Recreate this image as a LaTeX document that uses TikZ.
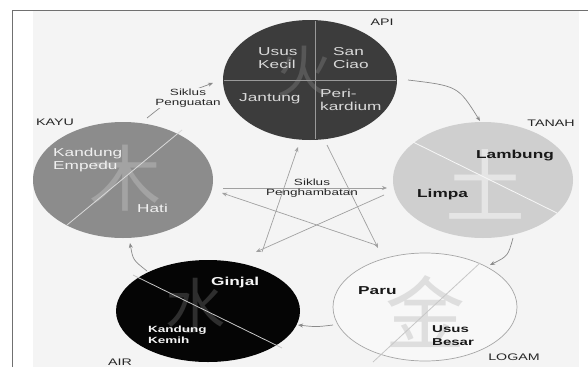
\documentclass[tikz,border=0pt]{standalone}
\usepackage{fontspec}
\setmainfont{Liberation Sans}
\newfontfamily\wf[FakeStretch=1.5]{Liberation Sans}
\newfontfamily\cjkfont{Noto Sans CJK SC}
\usetikzlibrary{shapes.geometric,arrows.meta}
\definecolor{bgpanel}{HTML}{F4F4F4}
\definecolor{framecol}{HTML}{707070}
\definecolor{apifill}{HTML}{3C3C3C}
\definecolor{kayufill}{HTML}{8C8C8C}
\definecolor{tanahfill}{HTML}{CFCFCF}
\definecolor{airfill}{HTML}{050505}
\definecolor{logamfill}{HTML}{F8F8F8}
\definecolor{cyclecol}{HTML}{8A8A8A}
\definecolor{starcol}{HTML}{A0A0A0}
\tikzset{
  element/.style={ellipse, draw=none, inner sep=0pt},
  organ/.style={align=left, anchor=west, font=\wf\fontsize{11.5}{13}\selectfont, inner sep=0pt},
  organb/.style={organ, font=\wf\bfseries\fontsize{11.5}{13}\selectfont},
  elname/.style={font=\wf\fontsize{9.5}{10}\selectfont, inner sep=0pt, text=black!85},
  cyclelbl/.style={align=center, font=\wf\fontsize{9}{10}\selectfont, inner sep=1pt, text=black!85},
  hanzi/.style={inner sep=0pt},
  divider/.style={line width=0.8pt},
  cyclearrow/.style={draw=cyclecol, line width=0.7pt, -{Stealth[length=5pt,width=4pt]}},
  stararrow/.style={draw=starcol, line width=0.7pt, -{Stealth[length=5pt,width=4pt]}}
}
\begin{document}
\begin{tikzpicture}[x=1pt,y=-1pt]
\useasboundingbox (0,0) rectangle (588,367);
\fill[white] (0,0) rectangle (588,367);
\fill[bgpanel] (33,11) rectangle (579,367);
\draw[framecol, line width=1pt] (12,367) -- (12,10) -- (588,10);

% ellipses
\node[element, fill=apifill, minimum width=174pt, minimum height=120pt] (api) at (310,80) {};
\node[element, fill=kayufill, minimum width=180pt, minimum height=116pt] (kayu) at (123,180) {};
\node[element, fill=tanahfill, minimum width=180pt, minimum height=116pt] (tanah) at (483,180) {};
\node[element, fill=airfill, minimum width=184pt, minimum height=102pt] (air) at (208,311) {};
\node[element, fill=logamfill, draw=black!35, line width=0.7pt, minimum width=184pt, minimum height=108pt] (logam) at (425,307) {};

% faint characters
\node[hanzi, text=black!66, font=\cjkfont\fontsize{56}{56}\selectfont] (hzapi) at (304,72) {火};
\node[hanzi, text=black!36, font=\cjkfont\fontsize{72}{72}\selectfont] (hzkayu) at (125,178) {木};
\node[hanzi, text=black!10, font=\cjkfont\fontsize{80}{80}\selectfont] (hztanah) at (485,184) {土};
\node[hanzi, text=black!82, font=\cjkfont\fontsize{60}{60}\selectfont] (hzair) at (195,306) {水};
\node[hanzi, text=black!13, font=\cjkfont\fontsize{80}{80}\selectfont] (hzlogam) at (425,312) {金};

% dividers
\coordinate (apiT) at (315,21); \coordinate (apiB) at (315,139);
\coordinate (apiL) at (224,80); \coordinate (apiR) at (396,80);
\draw[divider, black!40] (apiT) -- (apiB);
\draw[divider, black!40] (apiL) -- (apiR);
\coordinate (kayuA) at (67,225); \coordinate (kayuB) at (182,130);
\draw[divider, black!15] (kayuA) -- (kayuB);
\coordinate (tanahA) at (413,142); \coordinate (tanahB) at (557,213);
\draw[divider, black!3] (tanahA) -- (tanahB);
\coordinate (airA) at (133,275); \coordinate (airB) at (282,348);
\draw[divider, black!22] (airA) -- (airB);
\coordinate (logamA) at (373,362); \coordinate (logamB) at (480,263);
\draw[divider, black!22] (logamA) -- (logamB);

% organ labels
\node[organ, text=black!15] (usus) at (258,58) {Usus\\Kecil};
\node[organ, text=black!15] (sanjiao) at (333,58) {San\\Ciao};
\node[organ, text=black!15] (jantung) at (239,99) {Jantung};
\node[organ, text=black!15] (peri) at (320,100) {Peri-\\kardium};
\node[organ, text=black!6] (empedu) at (53,160) {Kandung\\Empedu};
\node[organ, text=black!6] (hati) at (137,208) {Hati};
\node[organb, text=black!90] (lambung) at (476,156) {Lambung};
\node[organb, text=black!90] (limpa) at (417,195) {Limpa};
\node[organb, text=black!4] (ginjal) at (211,283) {Ginjal};
\node[organb, text=black!4, font=\wf\bfseries\fontsize{9}{11}\selectfont] (kemih) at (148,335) {Kandung\\Kemih};
\node[organb, text=black!90] (paru) at (358,291) {Paru};
\node[organb, text=black!90, font=\wf\bfseries\fontsize{10}{13}\selectfont] (besar) at (432,336) {Usus\\Besar};

% element names
\node[elname] (lapi) at (382,22) {API};
\node[elname] (lkayu) at (55,122) {KAYU};
\node[elname] (ltanah) at (551,123) {TANAH};
\node[elname] (lair) at (120,362) {AIR};
\node[elname] (llogam) at (514,357) {LOGAM};

% outer cycle (Siklus Penguatan)
\coordinate (c1s) at (147,118); \coordinate (c1e) at (213,83);
\coordinate (c2s) at (408,80); \coordinate (c2e) at (480,121);
\coordinate (c3s) at (513,238); \coordinate (c3e) at (490,265);
\coordinate (c4s) at (333,325); \coordinate (c4e) at (298,325);
\coordinate (c5s) at (147,271); \coordinate (c5e) at (130,243);
\draw[cyclearrow] (c1s) .. controls (172,98) .. (c1e);
\draw[cyclearrow] (c2s) .. controls (458,86) .. (c2e);
\draw[cyclearrow] (c3s) .. controls (508,256) .. (c3e);
\draw[cyclearrow] (c4s) .. controls (316,327) .. (c4e);
\draw[cyclearrow] (c5s) .. controls (133,260) .. (c5e);
\node[cyclelbl, fill=bgpanel] (penguatan) at (188,98) {Siklus\\Penguatan};

% star (Siklus Penghambatan)
\coordinate (s1s) at (327,145); \coordinate (s1e) at (378,248);
\coordinate (s2s) at (262,252); \coordinate (s2e) at (298,147);
\coordinate (s3s) at (223,188); \coordinate (s3e) at (387,188);
\coordinate (s4s) at (384,195); \coordinate (s4e) at (256,252);
\coordinate (s5s) at (376,245); \coordinate (s5e) at (222,193);
\draw[stararrow] (s1s) -- (s1e);
\draw[stararrow] (s2s) -- (s2e);
\draw[stararrow] (s3s) -- (s3e);
\draw[stararrow] (s4s) -- (s4e);
\draw[stararrow] (s5s) -- (s5e);
\node[cyclelbl] (hambat) at (312,188) {Siklus\\Penghambatan};
\end{tikzpicture}
\end{document}
